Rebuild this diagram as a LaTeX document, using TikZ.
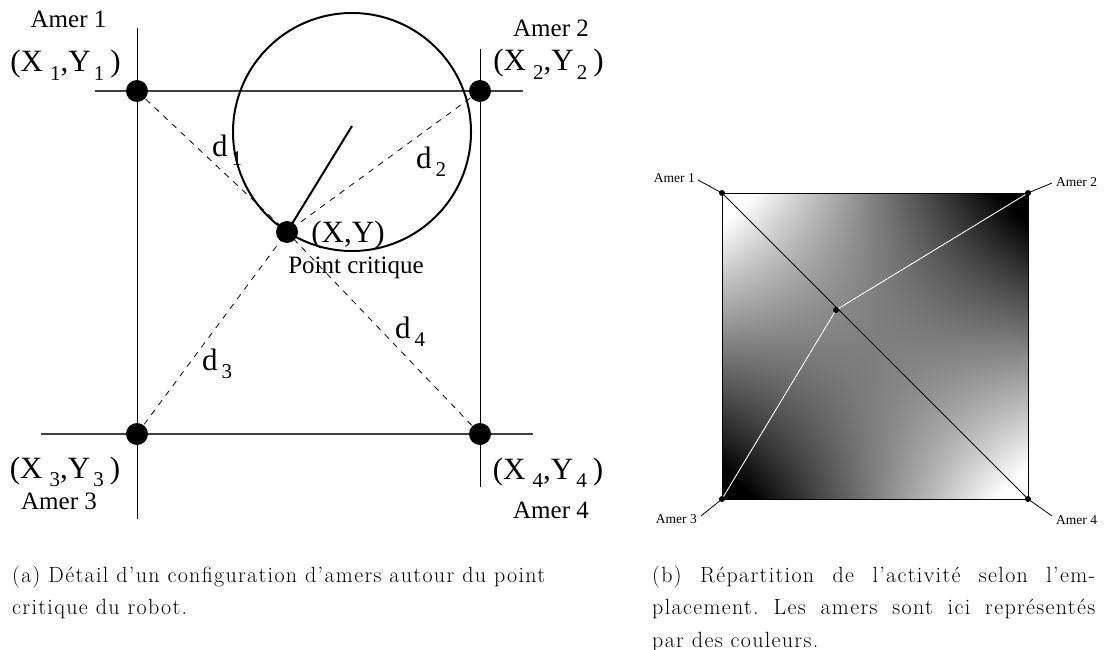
\documentclass[tikz,border=0pt]{standalone}
\usepackage{fontspec}
\setmainfont{Liberation Serif}
\newfontfamily\capfont{Latin Modern Roman}[LetterSpace=6]
\newcommand\mysub[1]{\raisebox{-0.27em}{\fontsize{21}{21}\selectfont #1}}
\pgfdeclarefunctionalshading{bilin}{\pgfpoint{-50bp}{-50bp}}{\pgfpoint{50bp}{50bp}}{}{mul -1000 div 0.5 add dup dup}
\begin{document}
\begin{tikzpicture}[x=1pt,y=-1pt,
  lab/.style={font=\fontsize{25}{30}\selectfont, inner sep=0pt},
  big/.style={font=\fontsize{31}{36}\selectfont, inner sep=0pt},
  small/.style={font=\fontsize{13.5}{16}\selectfont, inner sep=0pt},
  dot/.style={circle, fill=black, inner sep=0pt, minimum size=22pt},
  sdot/.style={circle, fill=black, inner sep=0pt, minimum size=6pt},
  guide/.style={line width=1pt},
  hguide/.style={line width=1.1pt, draw=black!75},
  dist/.style={dash pattern=on 6pt off 6pt, line width=0.8pt},
  caption/.style={inner sep=0pt, anchor=base west}]
\useasboundingbox (0,0) rectangle (1108,650);

% ---------------- left panel ----------------
\coordinate (V1t) at (137,28);  \coordinate (V1b) at (137,519);
\coordinate (V2t) at (480,49);  \coordinate (V2b) at (480,487);
\coordinate (H1l) at (95,91);   \coordinate (H1r) at (523,91);
\coordinate (H2l) at (41,434);  \coordinate (H2r) at (533,434);
\draw[guide] (V1t) -- (V1b);
\draw[guide] (V2t) -- (V2b);
\draw[hguide] (H1l) -- (H1r);
\draw[hguide] (H2l) -- (H2r);

\coordinate (a1) at (137,91);
\coordinate (a2) at (480,91);
\coordinate (a3) at (137,434);
\coordinate (a4) at (480,434);
\coordinate (pc) at (287,232);

\draw[dist] (a1) -- (pc);
\draw[dist] (a2) -- (pc);
\draw[dist] (a3) -- (pc);
\draw[dist] (a4) -- (pc);

\node[circle, draw, line width=2pt, inner sep=0pt, minimum size=238pt] (C) at (352,132) {};
\coordinate (ctip) at (352,126);
\draw[line width=2pt] (ctip) -- (pc);

\node[dot] (A1) at (a1) {};
\node[dot] (A2) at (a2) {};
\node[dot] (A3) at (a3) {};
\node[dot] (A4) at (a4) {};
\node[dot] (P) at (pc) {};

\node[lab, anchor=base] (L1) at (68.5,28) {Amer 1};
\node[lab, anchor=base] (L2) at (551,37) {Amer 2};
\node[lab, anchor=base] (L3) at (59,509) {Amer 3};
\node[lab, anchor=base] (L4) at (551,518) {Amer 4};

\node[big, anchor=base] (C1) at (65.5,72) {(X\hspace{7pt}\mysub{1},Y\hspace{3pt}\mysub{1}\hspace{6pt})};
\node[big, anchor=base] (C2) at (548.5,71) {(X\hspace{7pt}\mysub{2},Y\hspace{3pt}\mysub{2}\hspace{6pt})};
\node[big, anchor=base] (C3) at (65,478) {(X\hspace{7pt}\mysub{3},Y\hspace{3pt}\mysub{3}\hspace{6pt})};
\node[big, anchor=base] (C4) at (548,479) {(X\hspace{7pt}\mysub{4},Y\hspace{3pt}\mysub{4}\hspace{6pt})};

\node[big, anchor=base] (XY) at (348,242) {(X,Y)};
\node[lab, anchor=base] (PC) at (356,273) {Point critique};

\node[big, anchor=base west] (D1) at (212,157) {d\hspace{4pt}\mysub{1}};
\node[big, anchor=base west] (D2) at (416,168) {d\hspace{4pt}\mysub{2}};
\node[big, anchor=base west] (D3) at (202,370) {d\hspace{4pt}\mysub{3}};
\node[big, anchor=base west] (D4) at (395,338) {d\hspace{4pt}\mysub{4}};

% ---------------- right panel ----------------
\coordinate (q1) at (722,193);
\coordinate (q2) at (1028,193);
\coordinate (q3) at (722,499);
\coordinate (q4) at (1028,499);
\coordinate (qc) at (836,310);
\shade[shading=bilin] (q1) rectangle (q4);
\draw[line width=1pt] (q1) -- (q2) -- (q4) -- (q3) -- cycle;
\draw[line width=0.9pt] (q1) -- (q4);
\draw[white, line width=0.9pt] (qc) -- (q2);
\draw[white, line width=0.9pt] (qc) -- (q3);

\node[sdot] (B1) at (q1) {};
\node[sdot] (B2) at (q2) {};
\node[sdot] (B3) at (q3) {};
\node[sdot] (B4) at (q4) {};
\node[sdot] (BC) at (qc) {};

\node[small, anchor=east] (R1) at (695,178) {Amer 1};
\node[small, anchor=west] (R2) at (1056,182) {Amer 2};
\node[small, anchor=east] (R3) at (697,519) {Amer 3};
\node[small, anchor=west] (R4) at (1056,520) {Amer 4};
\draw[line width=0.8pt] (R1.east) ++(3,2) coordinate (r1e) -- (B1.center);
\draw[line width=0.8pt] (R2.west) ++(-4,1) coordinate (r2e) -- (B2.center);
\draw[line width=0.8pt] (R3.east) ++(4,-3) coordinate (r3e) -- (B3.center);
\draw[line width=0.8pt] (R4.west) ++(-4,-4) coordinate (r4e) -- (B4.center);

% ---------------- captions ----------------
\node[caption] (CA) at (12,582) {\parbox[t]{620pt}{\raggedright\frenchspacing\capfont\fontsize{22}{32.5}\selectfont (a) Détail d’un configuration d’amers autour du point\\ critique du robot.}};
\node[caption] (CB) at (652,582) {\parbox[t]{443pt}{\frenchspacing\capfont\fontsize{22}{32.5}\selectfont (b) Répartition de l’activité selon l’em-\linebreak placement. Les amers sont ici représentés\linebreak par des couleurs.}};
\end{tikzpicture}
\end{document}
